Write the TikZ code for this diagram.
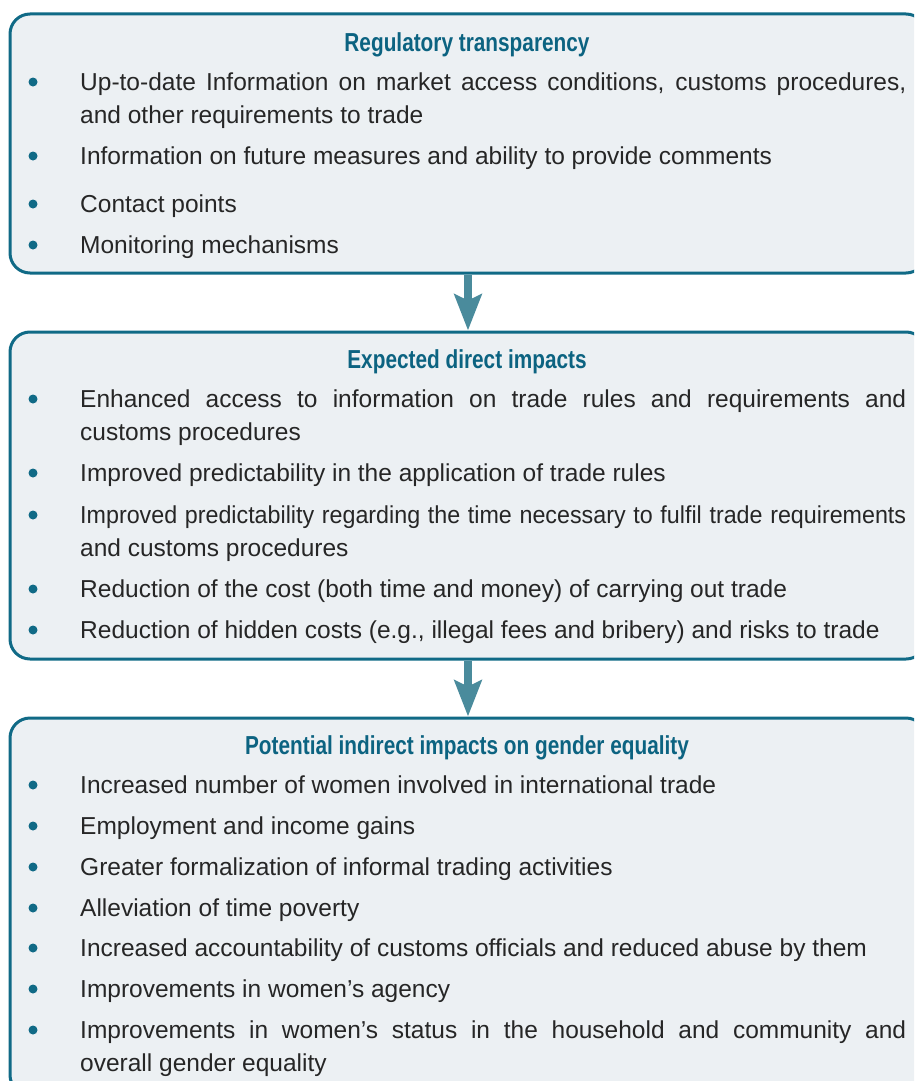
\documentclass[tikz,border=0pt]{standalone}
\usepackage{fontspec}
\setmainfont{Liberation Sans}
\newfontfamily\headfont[FakeStretch=0.8]{Liberation Sans}
\usetikzlibrary{arrows.meta}

\definecolor{frameteal}{HTML}{106A86}
\definecolor{headteal}{HTML}{0C6381}
\definecolor{arrowteal}{HTML}{4A8B9C}
\definecolor{panelgrey}{HTML}{ECF0F3}
\definecolor{inkgrey}{HTML}{262626}

\tikzset{
  panel/.style={draw=frameteal, line width=3pt, fill=panelgrey, rounded corners=20pt,
    minimum width=916pt, inner sep=0pt, outer sep=0pt, anchor=north west},
  heading/.style={font=\headfont\bfseries\fontsize{26}{30}\selectfont, text=headteal,
    anchor=base, inner sep=0pt},
  entry/.style={font=\fontsize{24.5}{33.5}\selectfont, text=inkgrey, text width=826pt,
    align=justify, anchor=base west, inner sep=0pt},
  dot/.style={circle, fill=frameteal, minimum size=9pt, inner sep=0pt},
  flow/.style={draw=arrowteal, line width=8pt, -{Stealth[length=36pt, width=27pt, inset=6pt]},
    shorten <=1.5pt, shorten >=1.5pt}
}

\begin{document}
\begin{tikzpicture}[x=1pt, y=-1pt]
    \path[clip, use as bounding box] (0,0) rectangle (914,1081);

    % the three panels
    \node[panel, minimum height=259pt] (transp) at (10,14) {};
    \node[panel, minimum height=327pt] (direct) at (10,332) {};
    \node[panel, minimum height=377pt] (gender) at (10,718) {};

    % arrows between the panels
    \draw[flow] (transp.south) -- (direct.north);
    \draw[flow] (direct.south) -- (gender.north);

    % Regulatory transparency
    \node[heading] (transptitle) at (467,52) {Regulatory transparency};
    \node[dot] (bt1) at (33,82) {};
    \node[entry] (t1) at (80,90) {Up-to-date Information on market access conditions, customs procedures,\linebreak and other requirements to trade};
    \node[dot] (bt2) at (33,156) {};
    \node[entry] (t2) at (80,164) {Information on future measures and ability to provide comments};
    \node[dot] (bt3) at (33,204) {};
    \node[entry] (t3) at (80,212) {Contact points};
    \node[dot] (bt4) at (33,245) {};
    \node[entry] (t4) at (80,253) {Monitoring mechanisms};

    % Expected direct impacts
    \node[heading] (directtitle) at (467,368) {Expected direct impacts};
    \node[dot] (bd1) at (33,399) {};
    \node[entry] (d1) at (80,407) {Enhanced access to information on trade rules and requirements and\linebreak customs procedures};
    \node[dot] (bd2) at (33,473) {};
    \node[entry] (d2) at (80,481) {Improved predictability in the application of trade rules};
    \node[dot] (bd3) at (33,515) {};
    \node[entry] (d3) at (80,523) {{\addfontfeatures{FakeStretch=0.95}Improved predictability regarding the time necessary to fulfil trade requirements}\linebreak and customs procedures};
    \node[dot] (bd4) at (33,589) {};
    \node[entry] (d4) at (80,597) {Reduction of the cost (both time and money) of carrying out trade};
    \node[dot] (bd5) at (33,630) {};
    \node[entry] (d5) at (80,638) {Reduction of hidden costs (e.g., illegal fees and bribery) and risks to trade};

    % Potential indirect impacts
    \node[heading] (gendertitle) at (467,754) {Potential indirect impacts on gender equality};
    \node[dot] (bg1) at (33,785) {};
    \node[entry] (g1) at (80,793) {Increased number of women involved in international trade};
    \node[dot] (bg2) at (33,826) {};
    \node[entry] (g2) at (80,834) {Employment and income gains};
    \node[dot] (bg3) at (33,867) {};
    \node[entry] (g3) at (80,875) {Greater formalization of informal trading activities};
    \node[dot] (bg4) at (33,908) {};
    \node[entry] (g4) at (80,916) {Alleviation of time poverty};
    \node[dot] (bg5) at (33,948) {};
    \node[entry] (g5) at (80,956) {Increased accountability of customs officials and reduced abuse by them};
    \node[dot] (bg6) at (33,989) {};
    \node[entry] (g6) at (80,997) {Improvements in women’s agency};
    \node[dot] (bg7) at (33,1030) {};
    \node[entry] (g7) at (80,1038) {Improvements in women’s status in the household and community and\linebreak overall gender equality};
\end{tikzpicture}
\end{document}
